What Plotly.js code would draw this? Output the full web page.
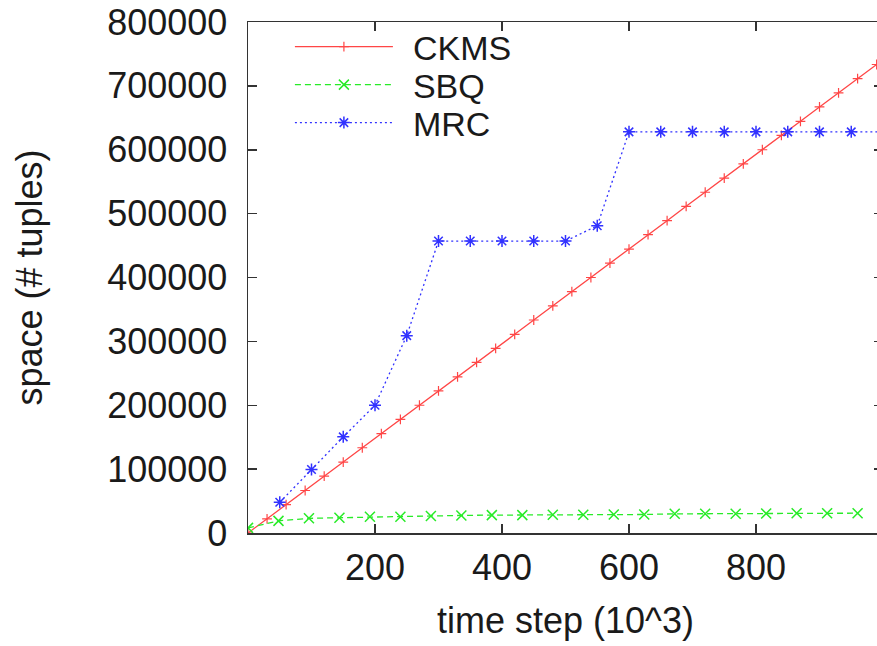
<!DOCTYPE html>
<html>
<head>
<meta charset="utf-8">
<script src="https://cdn.plot.ly/plotly-3.0.1.min.js"></script>
<style>
  html, body { margin: 0; padding: 0; background: #fff; overflow: hidden; width: 877px; height: 646px; }
  #chart { width: 900px; height: 646px; }
</style>
</head>
<body>
<div id="chart"></div>
<script>
// ---- data ----
const ckmsX = [0, 30, 60, 90, 120, 150, 180, 210, 240, 270, 300, 330, 360, 390, 420, 450, 480,
               510, 540, 570, 600, 630, 660, 690, 720, 750, 780, 810, 840, 870, 900, 930, 960, 990];
const ckmsY = [0, 22000, 44500, 66500, 89000, 111000, 133500, 155500, 178000, 200000, 222500,
               244500, 267000, 289000, 311000, 333500, 355500, 378000, 400000, 422500, 444500,
               467000, 489000, 511500, 533500, 555500, 578000, 600000, 622500, 644500, 667000,
               689000, 711500, 733500];

const sbqX = [0, 48, 96, 144, 192, 240, 288, 336, 384, 432, 480, 528, 576, 624, 672, 720, 768,
              816, 864, 912, 960];
const sbqY = [8000, 19000, 23000, 24000, 25500, 25500, 26500, 27500, 28000, 28000, 28500, 28500,
              29000, 29000, 30000, 30000, 30000, 30500, 31000, 31000, 31000];

const mrcX = [50, 100, 150, 200, 250, 300, 350, 400, 450, 500, 550, 600, 650, 700, 750, 800,
              850, 900, 950, 1000];
const mrcY = [48000, 99500, 150500, 200000, 309000, 457000, 457000, 457000, 457000, 457000,
              481000, 628000, 628000, 628000, 628000, 628000, 628000, 628000, 628000, 628000];

const seriesNames = ["CKMS", "SBQ", "MRC"];
const xTicks = [200, 400, 600, 800];
const yTicks = [0, 100000, 200000, 300000, 400000, 500000, 600000, 700000, 800000];
const xTitle = "time step (10^3)";
const yTitle = "space (# tuples)";

// ---- styling ----
const FONT = "Liberation Sans, Arial, Helvetica, sans-serif";
const axisColor = "#333333";
const textColor = "#1a1a1a";

const traces = [
  {
    x: ckmsX, y: ckmsY, name: seriesNames[0], type: "scatter", mode: "lines+markers",
    line: { color: "rgb(255,70,70)", width: 1.3 },
    marker: { symbol: "cross-thin-open", size: 7, color: "rgb(255,70,70)", line: { width: 1.2, color: "rgb(255,70,70)" } }
  },
  {
    x: sbqX, y: sbqY, name: seriesNames[1], type: "scatter", mode: "lines+markers",
    line: { color: "rgb(40,235,40)", width: 1.3, dash: "6px,4px" },
    marker: { symbol: "x-thin-open", size: 10, color: "rgb(40,235,40)", line: { width: 1.5, color: "rgb(40,235,40)" } }
  },
  {
    x: mrcX, y: mrcY, name: seriesNames[2], type: "scatter", mode: "lines+markers",
    line: { color: "rgb(50,50,255)", width: 1.3, dash: "2px,3px" },
    marker: { symbol: "asterisk-open", size: 10, color: "rgb(50,50,255)", line: { width: 1.5, color: "rgb(50,50,255)" } }
  }
];

const layout = {
  width: 900, height: 646,
  margin: { l: 248, r: 17, t: 22, b: 113, pad: 0 },
  paper_bgcolor: "#fff", plot_bgcolor: "#fff",
  font: { family: FONT, size: 36, color: textColor },
  showlegend: true,
  legend: {
    x: 0.066, y: 1.0, xanchor: "left", yanchor: "top",
    bgcolor: "rgba(0,0,0,0)", borderwidth: 0,
    font: { family: FONT, size: 34, color: textColor },
    itemwidth: 98, tracegroupgap: 0
  },
  xaxis: {
    range: [0, 1000], tickmode: "array", tickvals: xTicks, ticktext: xTicks.map(String),
    ticks: "inside", ticklen: 9, tickwidth: 1.5, tickcolor: axisColor,
    showline: true, linecolor: axisColor, linewidth: 1.5, mirror: "ticks",
    showgrid: false, zeroline: false,
    tickfont: { family: FONT, size: 36, color: textColor },
    ticklabelstandoff: 2,
    title: { text: xTitle, font: { family: FONT, size: 36, color: textColor }, standoff: 21 }
  },
  yaxis: {
    range: [0, 800000], tickmode: "array", tickvals: yTicks, ticktext: yTicks.map(String),
    ticks: "inside", ticklen: 9, tickwidth: 1.5, tickcolor: axisColor,
    showline: true, linecolor: axisColor, linewidth: 1.5, mirror: "ticks",
    showgrid: false, zeroline: false,
    tickfont: { family: FONT, size: 36, color: textColor },
    ticklabelstandoff: 12,
    title: { text: yTitle, font: { family: FONT, size: 36, color: textColor }, standoff: 53 }
  }
};

Plotly.newPlot("chart", traces, layout, { staticPlot: true, displayModeBar: false }).then(function (gd) {
  // gnuplot-style key: tighter row spacing and a wider gap between sample and text
  const legend = gd.querySelector(".legend");
  if (legend) {
    legend.querySelectorAll("[clip-path]").forEach(function (el) { el.removeAttribute("clip-path"); });
  }
  const rows = gd.querySelectorAll(".legend .traces");
  const rowStep = 38;
  let y0 = null;
  rows.forEach(function (row, i) {
    const tr = row.getAttribute("transform") || "";
    const m = /translate\(\s*([-\d.]+)[ ,]+([-\d.]+)\s*\)/.exec(tr);
    if (!m) return;
    const tx = parseFloat(m[1]);
    const ty = parseFloat(m[2]);
    if (y0 === null) y0 = ty - 4;
    row.setAttribute("transform", "translate(" + tx + "," + (y0 + i * rowStep) + ")");
    const t = row.querySelector(".legendtext");
    if (t) t.setAttribute("x", parseFloat(t.getAttribute("x") || 0) + 15);
  });
});
</script>
</body>
</html>
